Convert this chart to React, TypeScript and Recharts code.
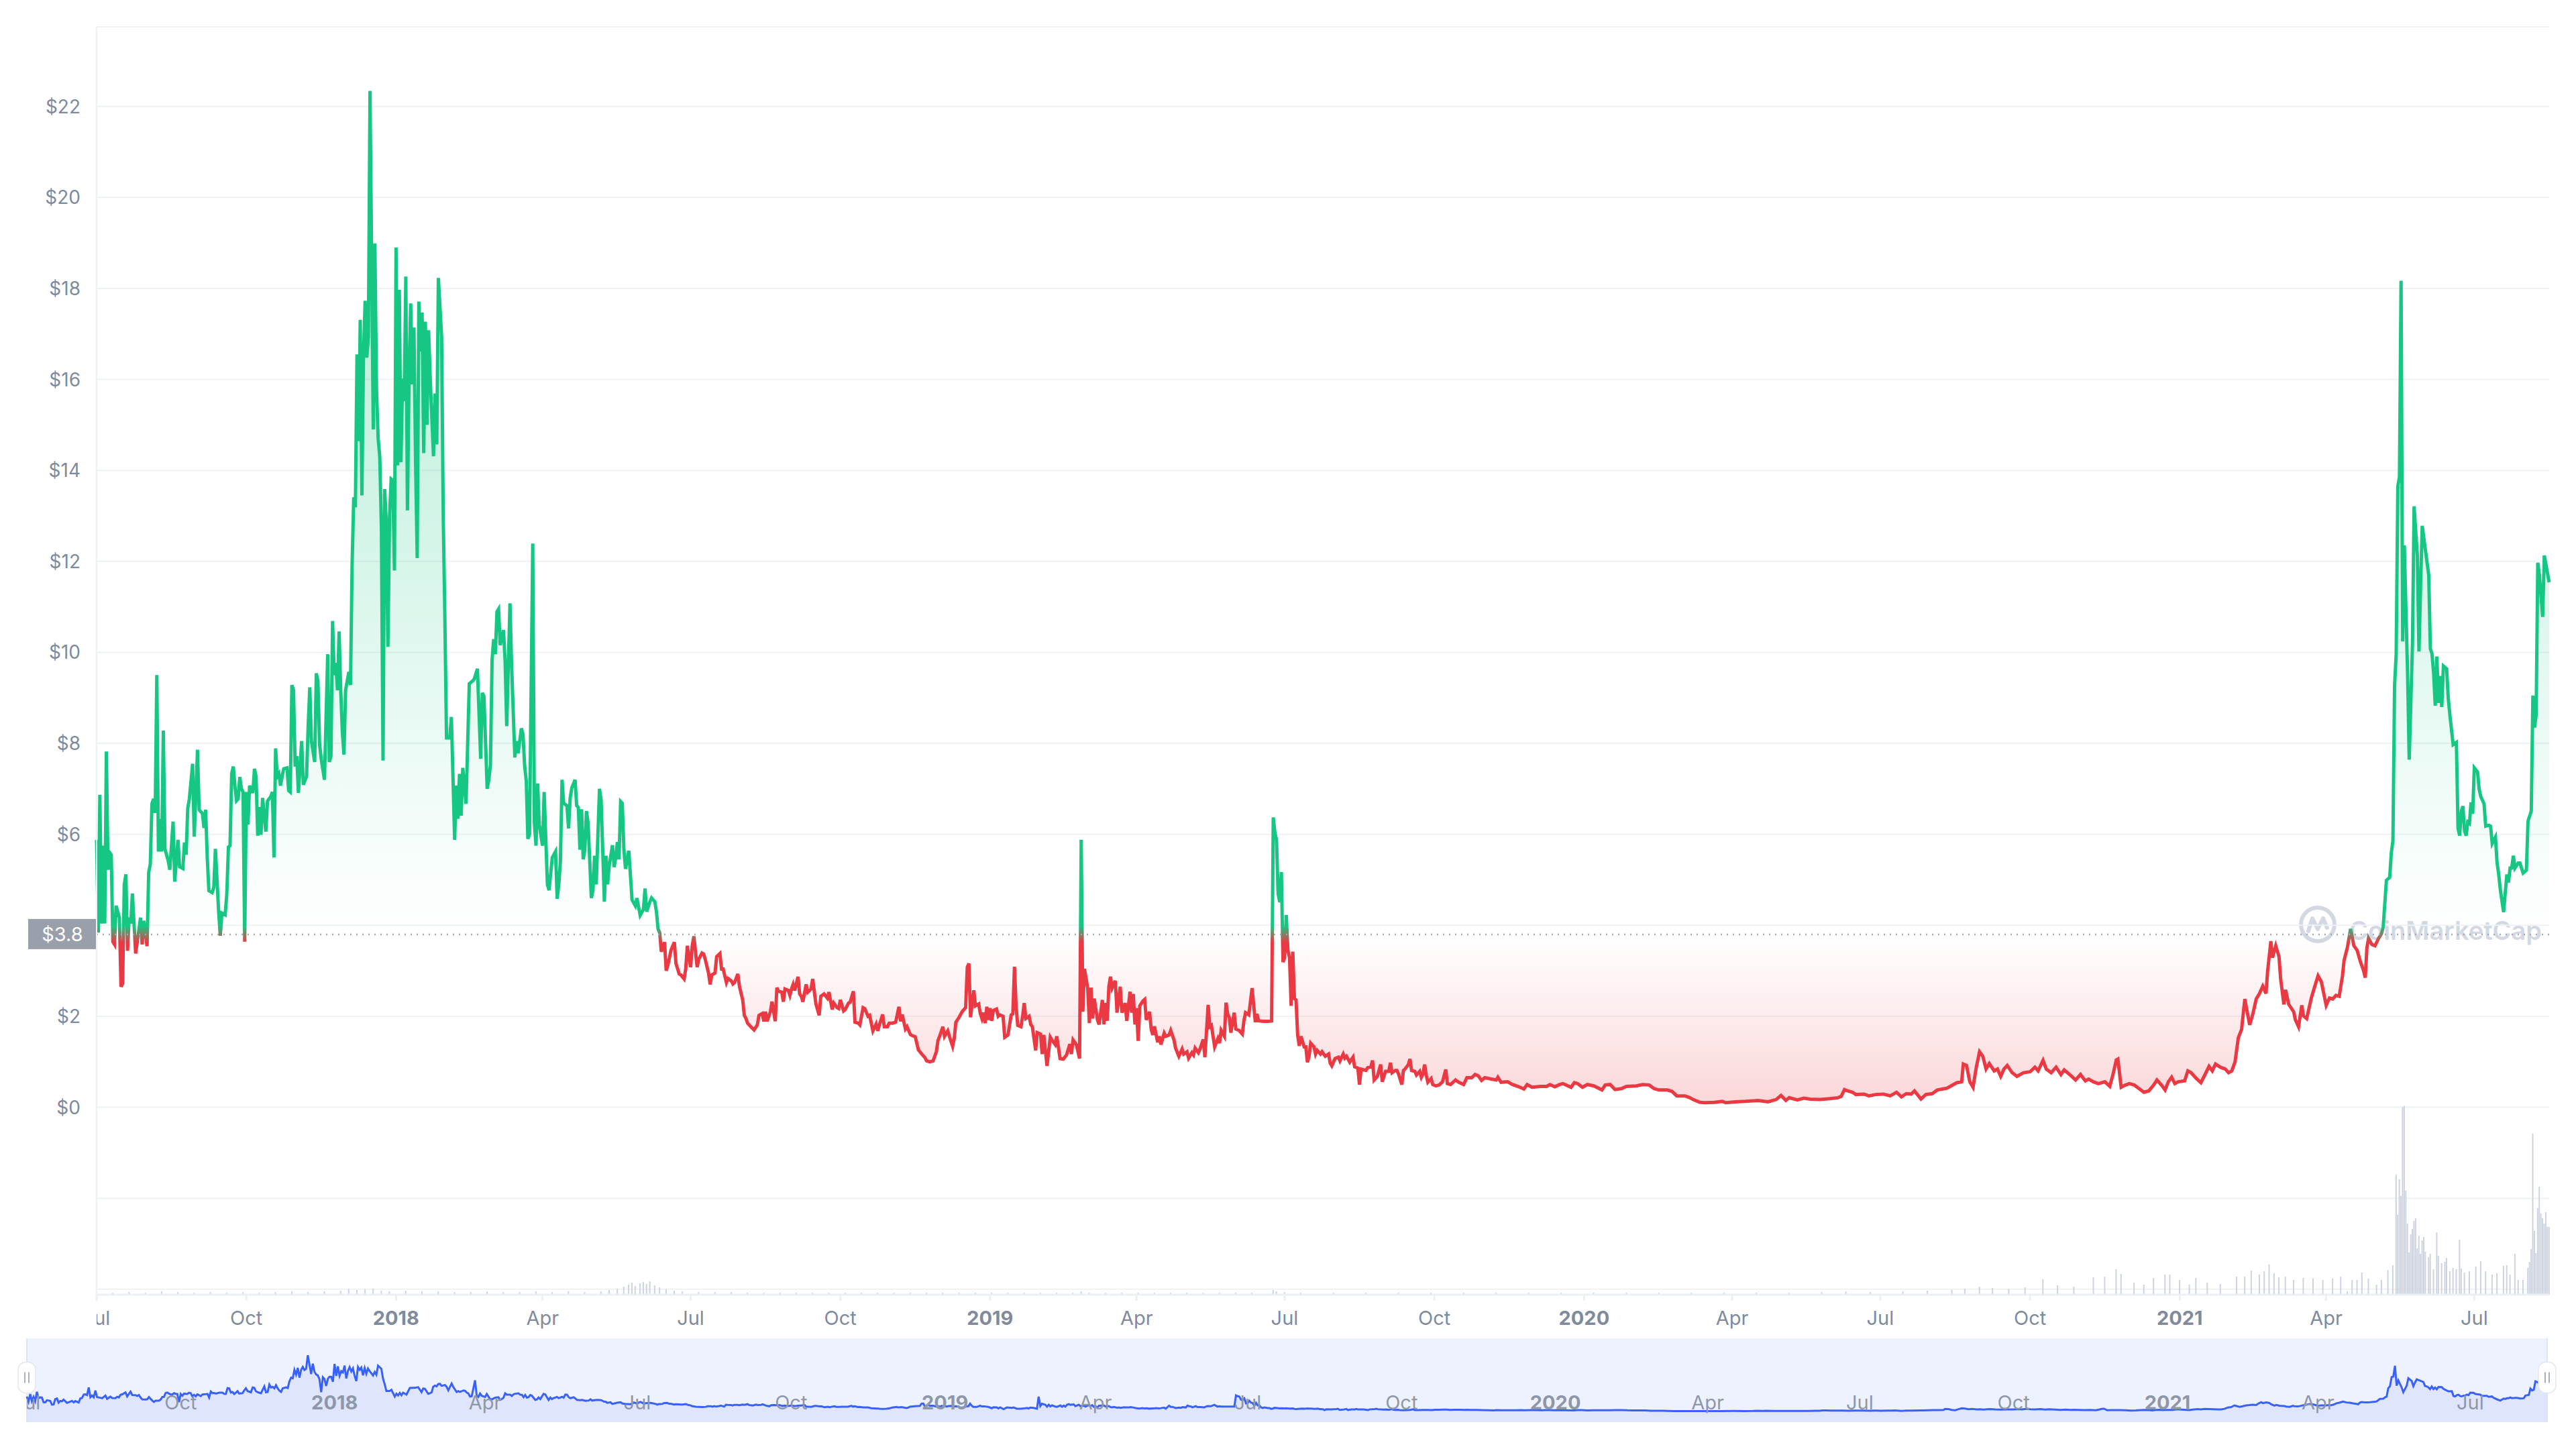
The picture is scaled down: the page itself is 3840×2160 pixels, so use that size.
import { Area, Bar, CartesianGrid, ComposedChart, ReferenceLine, XAxis, YAxis } from 'recharts'

// days are counted from 1 Jul 2017, prices in USD
const BASE_PRICE = 3.8

const price2017: [number, number][] = [
  [0, 5.88], [1, 3.84], [2, 6.87], [3, 4.04], [4, 5.75], [5, 4.04], [6, 7.82], [7, 5.22], [8, 5.6], [9, 5.55],
  [10, 3.64], [11, 3.58], [12, 4.43], [14, 4.17], [15, 2.65], [16, 2.72], [17, 4.89], [18, 5.12], [19, 3.44], [20, 4.17],
  [21, 4.04], [22, 4.7], [24, 3.38], [26, 3.9], [27, 4.17], [28, 3.58], [29, 4.1], [31, 3.54], [32, 5.16], [33, 5.35],
  [34, 6.67], [35, 6.78], [36, 6.47], [37, 9.5], [38, 5.62], [39, 6.34], [40, 5.62], [41, 8.28], [42, 5.68], [44, 5.42],
  [45, 5.22], [47, 6.28], [48, 4.96], [50, 5.88], [51, 5.29], [53, 5.25], [54, 5.82], [55, 5.55], [56, 6.57], [57, 6.78],
  [59, 7.55], [60, 5.95], [62, 7.86], [63, 6.54], [65, 6.46], [66, 6.14], [67, 6.54], [68, 5.49], [69, 4.76], [71, 4.72],
  [72, 4.83], [73, 5.68], [75, 4.3], [76, 3.77], [77, 4.27], [79, 4.23], [80, 4.69], [81, 5.72], [82, 5.75], [83, 7.33],
  [84, 7.49], [85, 7.07], [86, 6.74], [87, 6.78], [88, 7.26], [89, 7.0], [90, 6.93], [91, 3.64], [92, 6.93], [93, 6.21],
  [94, 7.07], [96, 6.91], [97, 7.44], [98, 7.27], [99, 5.97], [100, 6.6], [101, 5.99], [102, 6.8], [104, 6.06], [105, 6.73],
  [107, 6.83], [108, 6.93], [109, 5.49], [110, 7.89], [111, 7.27], [112, 7.33], [113, 7.07], [114, 7.27], [115, 7.44], [117, 7.46],
  [118, 6.96], [119, 6.93], [120, 9.28], [121, 9.17], [122, 7.49], [123, 7.72], [124, 6.91], [126, 8.05], [127, 7.09], [129, 7.27],
  [130, 8.38], [131, 9.23], [132, 8.05], [134, 7.59], [135, 9.54], [136, 9.37], [137, 7.99], [138, 7.66], [140, 7.2], [142, 9.96],
  [143, 7.59], [144, 7.72], [145, 10.69], [146, 9.5], [147, 9.77], [148, 9.17], [149, 10.46], [150, 9.17], [151, 8.25], [152, 7.75],
  [153, 9.17], [155, 9.57], [156, 9.28], [157, 11.94], [158, 13.41], [159, 13.19], [160, 16.55], [161, 14.64], [162, 17.31], [163, 13.45],
  [164, 16.55], [165, 17.73], [166, 16.48], [167, 16.94], [168, 22.34], [170, 14.9], [171, 18.99], [172, 15.76], [173, 14.7], [174, 14.3],
  [175, 12.73], [176, 7.62], [177, 13.59], [178, 12.86], [179, 10.12], [180, 12.99], [181, 13.81], [182, 13.78], [183, 11.8],
]

const price2018: [number, number][] = [
  [184, 18.9], [185, 14.11], [186, 17.97], [187, 14.18], [188, 16.02], [189, 15.52], [190, 18.26], [191, 13.12], [192, 16.09], [193, 17.67],
  [194, 15.89], [195, 17.14], [196, 14.18], [197, 12.07], [198, 17.71], [199, 16.61], [200, 17.47], [201, 14.38], [202, 17.27], [203, 15.0],
  [204, 17.08], [205, 16.02], [207, 14.31], [208, 15.69], [209, 14.57], [210, 18.23], [212, 16.94], [213, 12.99], [214, 10.75], [215, 8.12],
  [217, 8.12], [218, 8.58], [220, 5.88], [221, 7.07], [222, 6.34], [223, 7.33], [224, 6.41], [225, 7.46], [227, 6.67], [228, 7.99],
  [229, 9.31], [231, 9.37], [232, 9.41], [234, 9.64], [236, 7.66], [237, 9.11], [238, 9.04], [240, 7.0], [241, 7.2], [242, 7.53],
  [243, 9.83], [244, 10.29], [245, 9.96], [246, 10.89], [247, 10.95], [248, 10.16], [250, 10.49], [251, 9.83], [252, 8.38], [254, 11.08],
  [255, 9.72], [257, 7.69], [258, 8.05], [259, 7.78], [261, 8.33], [262, 8.2], [263, 7.51], [264, 7.18], [265, 5.9], [266, 6.0],
  [268, 12.39], [269, 6.25], [270, 5.75], [271, 7.12], [272, 6.21], [274, 5.75], [275, 6.93], [277, 4.9], [278, 4.77], [280, 5.49],
  [282, 5.62], [283, 4.58], [284, 4.9], [285, 5.41], [286, 7.2], [287, 6.68], [289, 6.63], [290, 6.13], [291, 6.8], [292, 7.02],
  [294, 7.2], [295, 6.63], [296, 6.59], [297, 5.66], [298, 6.55], [299, 5.45], [300, 5.66], [301, 6.51], [302, 6.25], [304, 4.6],
  [305, 4.77], [306, 5.53], [307, 4.9], [309, 7.0], [310, 6.76], [312, 4.52], [313, 5.53], [314, 4.9], [315, 5.32], [317, 5.76],
  [318, 5.28], [319, 5.49], [320, 5.83], [321, 5.45], [322, 6.72], [323, 6.68], [324, 5.66], [325, 5.24], [327, 5.64], [328, 5.11],
  [329, 4.56], [331, 4.43], [332, 4.6], [334, 4.22], [336, 4.35], [337, 4.81], [338, 4.3], [340, 4.52], [341, 4.6], [343, 4.52],
  [344, 4.3], [345, 3.92], [346, 3.84], [347, 3.42], [349, 3.63], [350, 3.0], [351, 3.12], [353, 3.46], [355, 3.63], [356, 3.16],
  [358, 2.93], [359, 2.91], [361, 2.82], [362, 3.04], [363, 3.55], [365, 3.08], [366, 3.55], [367, 3.76], [369, 3.08], [370, 3.25],
  [372, 3.39], [373, 3.37], [374, 3.25], [376, 2.95], [377, 2.7], [378, 2.91], [380, 2.95], [381, 3.31], [383, 3.38], [384, 3.04],
  [385, 3.04], [387, 2.74], [388, 2.83], [390, 2.78], [391, 2.71], [392, 2.74], [394, 2.93], [395, 2.66], [397, 2.36], [398, 2.02],
  [399, 1.95], [400, 1.85], [402, 1.77], [404, 1.7], [406, 1.81], [407, 2.02], [409, 2.06], [410, 1.89], [411, 2.1], [412, 1.89],
  [414, 2.1], [415, 2.32], [417, 1.89], [418, 2.63], [419, 2.55], [421, 2.53], [422, 2.32], [423, 2.6], [425, 2.57], [426, 2.46],
  [427, 2.6], [428, 2.7], [429, 2.57], [431, 2.87], [432, 2.49], [433, 2.44], [434, 2.32], [436, 2.7], [437, 2.53], [439, 2.6],
  [440, 2.82], [442, 2.27], [444, 2.02], [445, 2.44], [447, 2.49], [449, 2.4], [450, 2.53], [452, 2.15], [453, 2.29], [455, 2.19],
  [456, 2.17], [457, 2.36], [459, 2.12], [460, 2.15], [462, 2.29], [463, 2.31], [465, 2.55], [466, 1.87], [468, 1.85], [469, 1.81],
  [471, 2.19], [472, 2.17], [474, 2.0], [475, 2.02], [477, 1.68], [479, 1.83], [480, 1.68], [481, 1.81], [483, 2.04], [484, 1.77],
  [486, 1.77], [487, 1.85], [489, 1.85], [491, 1.87], [493, 2.21], [494, 1.89], [495, 2.04], [497, 1.72], [498, 1.77], [500, 1.6],
  [501, 1.58], [503, 1.55], [505, 1.26], [507, 1.17], [509, 1.09], [510, 1.02], [512, 1.0], [514, 1.02], [516, 1.22], [517, 1.47],
  [518, 1.56], [520, 1.77], [521, 1.56], [523, 1.68], [524, 1.56], [526, 1.34], [527, 1.51], [528, 1.87], [530, 1.98], [532, 2.11],
  [534, 2.19], [535, 3.08], [536, 3.16], [537, 1.98], [539, 2.57], [540, 2.23], [542, 2.27], [543, 2.06], [544, 1.95], [545, 2.08],
  [546, 1.85], [547, 2.21], [548, 1.92],
]

const price2019: [number, number][] = [
  [549, 2.18], [550, 1.9], [551, 2.13], [553, 2.16], [554, 2.0], [555, 2.03], [557, 2.0], [558, 1.54], [560, 1.59], [562, 2.03],
  [563, 2.05], [564, 3.09], [565, 2.21], [566, 1.8], [568, 1.77], [569, 2.0], [570, 2.29], [571, 1.95], [573, 2.0], [574, 1.82],
  [575, 1.77], [577, 1.25], [578, 1.64], [580, 1.61], [581, 1.17], [582, 1.59], [584, 0.91], [586, 1.54], [587, 1.48], [589, 1.38],
  [590, 1.56], [592, 1.07], [594, 1.06], [596, 1.15], [598, 1.39], [599, 1.17], [600, 1.48], [602, 1.38], [604, 1.07], [605, 5.88],
  [606, 2.1], [607, 3.04], [609, 2.62], [610, 1.85], [611, 2.63], [612, 1.95], [613, 2.39], [615, 1.92], [616, 1.82], [618, 2.36],
  [619, 1.82], [620, 2.29], [621, 1.9], [622, 2.65], [623, 2.87], [624, 2.62], [626, 2.78], [627, 2.08], [629, 2.65], [630, 2.08],
  [632, 2.29], [633, 1.9], [635, 2.54], [636, 2.08], [637, 2.49], [638, 1.82], [639, 2.18], [640, 1.46], [641, 2.23], [643, 2.34],
  [644, 2.37], [645, 1.92], [647, 2.1], [648, 1.72], [649, 1.59], [650, 1.78], [652, 1.43], [653, 1.56], [654, 1.38], [656, 1.63],
  [657, 1.56], [659, 1.59], [660, 1.69], [662, 1.48], [663, 1.3], [665, 1.12], [667, 1.28], [668, 1.17], [670, 1.22], [671, 1.08],
  [673, 1.2], [674, 1.15], [675, 1.3], [677, 1.2], [678, 1.28], [680, 1.49], [681, 1.1], [683, 2.25], [684, 1.77], [685, 1.8],
  [687, 1.33], [689, 1.51], [690, 1.41], [691, 1.69], [693, 1.56], [694, 2.3], [695, 2.05], [696, 1.97], [697, 1.64], [699, 2.08],
  [700, 1.72], [702, 1.69], [704, 1.61], [705, 1.9], [706, 2.08], [708, 2.03], [710, 2.62], [712, 1.87], [713, 2.05], [714, 1.9],
  [717, 1.89], [720, 1.89], [722, 1.9], [723, 6.37], [724, 6.04], [725, 5.88], [726, 4.69], [727, 4.51], [728, 5.17], [729, 3.19],
  [730, 3.29], [731, 4.23], [732, 3.45], [733, 3.29], [734, 2.23], [735, 3.42], [736, 2.39], [737, 2.36], [738, 1.59], [739, 1.35],
  [740, 1.56], [742, 1.33], [743, 1.33], [744, 0.99], [745, 1.12], [746, 1.41], [748, 1.33], [749, 1.17], [750, 1.25], [752, 1.17],
  [753, 1.22], [755, 1.12], [757, 1.17], [758, 0.97], [759, 0.91], [761, 1.07], [763, 1.1], [764, 1.02], [766, 1.17], [767, 1.08],
  [768, 1.12], [770, 0.99], [772, 1.1], [773, 0.89], [775, 0.86], [776, 0.5], [777, 0.84], [780, 0.81], [781, 0.87], [783, 0.89],
  [784, 1.03], [785, 0.6], [787, 0.68], [789, 0.94], [790, 0.56], [792, 0.79], [794, 0.79], [795, 0.98], [796, 0.76], [798, 0.81],
  [799, 0.81], [800, 0.73], [802, 0.5], [803, 0.81], [804, 0.84], [806, 0.94], [807, 1.06], [808, 0.81], [810, 0.79], [811, 0.71],
  [813, 0.79], [814, 0.66], [815, 0.73], [816, 0.94], [817, 0.71], [818, 0.55], [820, 0.63], [821, 0.5], [823, 0.47], [825, 0.49],
  [827, 0.56], [829, 0.83], [830, 0.52], [832, 0.5], [835, 0.6], [837, 0.55], [840, 0.5], [842, 0.65], [845, 0.65], [847, 0.72],
  [849, 0.69], [851, 0.59], [853, 0.65], [857, 0.62], [860, 0.6], [861, 0.66], [863, 0.55], [867, 0.56], [870, 0.5], [874, 0.45],
  [877, 0.4], [879, 0.5], [882, 0.44], [887, 0.46], [891, 0.46], [893, 0.5], [896, 0.45], [899, 0.5], [901, 0.52], [906, 0.44],
  [908, 0.54], [910, 0.52], [913, 0.44],
]

const price2020: [number, number][] = [
  [916, 0.5], [920, 0.47], [925, 0.38], [927, 0.49], [930, 0.5], [933, 0.39], [937, 0.41], [940, 0.46], [946, 0.47], [950, 0.5],
  [954, 0.49], [957, 0.41], [960, 0.38], [965, 0.38], [968, 0.35], [971, 0.25], [976, 0.25], [979, 0.21], [981, 0.17], [985, 0.11],
  [988, 0.1], [994, 0.11], [999, 0.13], [1001, 0.1], [1007, 0.12], [1013, 0.13], [1021, 0.15], [1027, 0.12], [1032, 0.17], [1035, 0.26],
  [1038, 0.15], [1040, 0.21], [1045, 0.16], [1049, 0.2], [1053, 0.18], [1059, 0.17], [1065, 0.19], [1070, 0.21], [1072, 0.24], [1074, 0.39],
  [1076, 0.36], [1079, 0.33], [1081, 0.28], [1086, 0.29], [1089, 0.25], [1093, 0.28], [1098, 0.29], [1102, 0.25], [1106, 0.33], [1109, 0.23],
  [1112, 0.3], [1115, 0.29], [1117, 0.36], [1121, 0.18], [1124, 0.28], [1128, 0.3], [1131, 0.38], [1134, 0.4], [1137, 0.42], [1140, 0.48],
  [1143, 0.54], [1146, 0.56], [1147, 0.95], [1149, 0.92], [1151, 0.56], [1153, 0.44], [1155, 0.88], [1157, 1.22], [1159, 1.12], [1161, 0.84],
  [1163, 0.96], [1166, 0.8], [1168, 0.84], [1170, 0.68], [1172, 0.84], [1174, 0.92], [1177, 0.76], [1180, 0.68], [1184, 0.76], [1188, 0.78],
  [1191, 0.88], [1193, 0.8], [1196, 1.03], [1198, 0.84], [1201, 0.76], [1204, 0.88], [1207, 0.72], [1209, 0.82], [1213, 0.7], [1216, 0.6],
  [1219, 0.72], [1222, 0.58], [1224, 0.62], [1227, 0.56], [1230, 0.52], [1234, 0.56], [1237, 0.46], [1239, 0.72], [1241, 1.04], [1242, 1.06],
  [1244, 0.44], [1246, 0.48], [1249, 0.52], [1252, 0.49], [1255, 0.41], [1258, 0.33], [1261, 0.36], [1264, 0.49], [1266, 0.6], [1269, 0.48],
  [1271, 0.38], [1273, 0.56], [1275, 0.66], [1277, 0.52], [1279, 0.56],
]

const price2021: [number, number][] = [
  [1283, 0.58], [1285, 0.8], [1287, 0.76], [1290, 0.64], [1293, 0.54], [1295, 0.68], [1298, 0.9], [1300, 0.8], [1302, 0.95], [1305, 0.88],
  [1308, 0.84], [1310, 0.76], [1312, 0.8], [1314, 1.0], [1316, 1.53], [1318, 1.71], [1320, 2.38], [1321, 2.18], [1323, 1.81], [1325, 2.06],
  [1327, 2.38], [1329, 2.5], [1331, 2.66], [1333, 2.5], [1334, 2.99], [1336, 3.65], [1337, 3.29], [1339, 3.55], [1341, 3.31], [1342, 2.82],
  [1344, 2.26], [1345, 2.58], [1347, 2.26], [1350, 2.1], [1351, 1.93], [1353, 1.77], [1355, 2.24], [1356, 2.01], [1358, 1.95], [1361, 2.42],
  [1363, 2.66], [1365, 2.89], [1367, 2.76], [1370, 2.24], [1372, 2.4], [1374, 2.38], [1376, 2.46], [1378, 2.44], [1380, 2.89], [1381, 3.23],
  [1383, 3.51], [1385, 3.92], [1387, 3.55], [1389, 3.45], [1391, 3.2], [1393, 3.0], [1394, 2.85], [1395, 3.5], [1396, 3.72], [1398, 3.58],
  [1400, 3.55], [1402, 3.7], [1404, 3.82], [1405, 3.96], [1407, 4.99], [1409, 5.05], [1410, 5.59], [1411, 5.86], [1412, 9.27], [1413, 9.97],
  [1414, 13.65], [1415, 13.86], [1416, 18.17], [1417, 10.24], [1418, 12.35], [1420, 9.54], [1421, 7.64], [1423, 10.18], [1424, 13.21], [1426, 12.13],
  [1427, 10.02], [1428, 11.48], [1429, 12.78], [1431, 12.24], [1433, 11.7], [1434, 10.08], [1435, 9.97], [1436, 9.54], [1437, 8.83], [1438, 9.91],
  [1439, 8.89], [1440, 9.48], [1441, 8.8], [1442, 9.7], [1444, 9.64], [1445, 8.99], [1446, 8.62], [1448, 7.97], [1450, 8.02], [1451, 6.13],
  [1452, 5.97], [1453, 6.51], [1454, 6.62], [1455, 6.08], [1456, 5.97], [1457, 6.27], [1458, 6.24], [1459, 6.7], [1460, 6.45], [1461, 7.46],
  [1463, 7.37], [1464, 6.99], [1465, 6.83], [1467, 6.67], [1468, 6.18], [1470, 6.2], [1471, 6.18], [1472, 5.8], [1474, 5.94], [1475, 5.37],
  [1476, 5.12], [1477, 4.78], [1479, 4.29], [1481, 5.12], [1482, 4.94], [1483, 5.26], [1484, 5.26], [1485, 5.53], [1486, 5.26], [1488, 5.37],
  [1489, 5.37], [1491, 5.15], [1493, 5.21], [1494, 6.29], [1496, 6.51], [1497, 9.05], [1498, 8.35], [1499, 8.62], [1500, 11.97], [1501, 11.7],
  [1503, 10.78], [1504, 12.13], [1507, 11.54],
]

// traded volume, relative units
const volume2017: [number, number][] = [
  [0, 4], [10, 3], [20, 4], [30, 3], [40, 5], [50, 4], [60, 3], [70, 4], [80, 3], [90, 4], [100, 3], [110, 4], [120, 5],
  [130, 4], [140, 5], [150, 6], [155, 9], [160, 7], [165, 8], [170, 9], [175, 6], [180, 5],
]
const volume2018: [number, number][] = [
  [190, 6], [200, 5], [210, 5], [220, 4], [230, 4], [240, 5], [250, 4], [260, 4], [270, 5], [280, 4], [290, 5], [300, 4],
  [310, 5], [315, 7], [320, 9], [324, 12], [327, 15], [329, 18], [331, 13], [334, 17], [336, 19], [338, 16], [340, 20], [343, 14],
  [346, 11], [350, 8], [355, 6], [360, 5], [370, 4], [380, 4], [390, 4], [400, 3], [410, 3], [420, 3], [430, 3], [440, 3],
  [450, 3], [460, 3], [470, 3], [480, 3], [490, 3], [500, 3], [510, 3], [520, 3], [530, 3], [540, 3],
]
const volume2019: [number, number][] = [
  [550, 3], [560, 3], [570, 3], [580, 3], [590, 3], [600, 3], [605, 5], [610, 3], [620, 3], [630, 3], [640, 3], [650, 3],
  [660, 3], [670, 3], [680, 3], [690, 3], [700, 3], [710, 3], [723, 7], [725, 5], [730, 4], [740, 3], [760, 3], [780, 3],
  [800, 3], [820, 3], [840, 3], [860, 3], [880, 3], [900, 3],
]
const volume2020: [number, number][] = [
  [920, 3], [940, 3], [960, 3], [980, 3], [1000, 3], [1020, 3], [1040, 3], [1060, 4], [1075, 5], [1090, 4], [1110, 5],
  [1125, 6], [1140, 7], [1148, 9], [1157, 12], [1165, 10], [1175, 9], [1185, 11], [1196, 23], [1205, 14], [1215, 12],
  [1227, 26], [1234, 27], [1241, 38], [1244, 31], [1252, 18], [1258, 15], [1264, 25], [1271, 30], [1274, 30], [1280, 22],
]
const volume2021: [number, number][] = [
  [1286, 15], [1290, 25], [1297, 18], [1305, 16], [1315, 27], [1320, 27], [1324, 36], [1329, 30], [1332, 35], [1335, 45],
  [1338, 32], [1341, 26], [1345, 27], [1350, 22], [1356, 25], [1362, 24], [1368, 22], [1374, 24], [1379, 27], [1383, 5],
  [1386, 22], [1389, 22], [1392, 33], [1396, 24], [1401, 15], [1404, 22], [1408, 37], [1411, 44], [1413, 179], [1414, 119],
  [1415, 172], [1416, 147], [1417, 279], [1418, 281], [1419, 155], [1420, 106], [1421, 63], [1422, 90], [1423, 98], [1424, 110],
  [1425, 114], [1426, 69], [1427, 88], [1428, 61], [1429, 81], [1430, 86], [1431, 64], [1433, 56], [1434, 61], [1436, 38],
  [1438, 93], [1439, 58], [1441, 47], [1443, 49], [1444, 55], [1446, 35], [1448, 40], [1450, 38], [1452, 82], [1453, 39],
  [1455, 33], [1458, 35], [1462, 42], [1465, 50], [1468, 35], [1472, 30], [1475, 32], [1479, 43], [1481, 44], [1483, 30],
  [1486, 61], [1488, 22], [1491, 22], [1494, 40], [1495, 49], [1496, 68], [1497, 240], [1498, 95], [1499, 62], [1500, 129],
  [1501, 161], [1502, 121], [1503, 114], [1504, 106], [1505, 123], [1506, 101], [1507, 101],
]

const tickDays = [0, 92, 184, 274, 365, 457, 549, 639, 730, 822, 914, 1005, 1096, 1188, 1280, 1370, 1461]
const tickLabels = ['Jul', 'Oct', '2018', 'Apr', 'Jul', 'Oct', '2019', 'Apr', 'Jul', 'Oct', '2020', 'Apr', 'Jul', 'Oct', '2021', 'Apr', 'Jul']
const priceTicks = [-4, -2, 0, 2, 4, 6, 8, 10, 12, 14, 16, 18, 20, 22]

type Row = { day: number; price?: number; volume?: number }

const prices = [...price2017, ...price2018, ...price2019, ...price2020, ...price2021]
const volumes = [...volume2017, ...volume2018, ...volume2019, ...volume2020, ...volume2021]

const byDay = new Map<number, Row>()
prices.forEach(([day, price]) => byDay.set(day, { day, price }))
volumes.forEach(([day, volume]) => byDay.set(day, { ...(byDay.get(day) ?? { day }), volume }))
const rows = [...byDay.values()].sort((a, b) => a.day - b.day)

const priceValues = prices.map((p) => p[1])
const maxPrice = Math.max(...priceValues)
const minPrice = Math.min(...priceValues)
const split = (maxPrice - BASE_PRICE) / (maxPrice - minPrice)

const GREEN = '#16c784'
const RED = '#ea3943'
const GREY = '#808a9d'

function labelFor(day: number) {
  return tickLabels[tickDays.indexOf(day)] ?? ''
}

// the base price label covers the $4 tick, as on the site
function priceLabel(v: number) {
  if (v < 0 || Math.abs(v - BASE_PRICE) < 0.5) return ''
  return `$${v}`
}

function DateTick(props: any) {
  const { x, y, payload } = props
  const label = labelFor(payload.value)
  const bold = /^\d{4}$/.test(label)
  const text = (
    <text x={x} y={y} dy="0.71em" textAnchor="middle" fill={GREY} fontSize={29} fontWeight={bold ? 700 : 400}>
      {label}
    </text>
  )
  if (payload.value !== tickDays[0]) return <g>{text}</g>
  return (
    <g>
      <clipPath id="main-first-tick">
        <rect x={x} y={y - 10} width={80} height={60} />
      </clipPath>
      <g clipPath="url(#main-first-tick)">{text}</g>
    </g>
  )
}

function NavLabel(props: any) {
  const { viewBox, day } = props
  const label = labelFor(day)
  const bold = /^\d{4}$/.test(label)
  const x = viewBox.x
  const y = viewBox.y + viewBox.height - 29
  const text = (
    <text x={x} y={y} dy="0.36em" textAnchor="middle" fill="#8e97a9" fontSize={29} fontWeight={bold ? 700 : 400}>
      {label}
    </text>
  )
  if (day !== tickDays[0]) return <g>{text}</g>
  return (
    <g>
      <clipPath id="nav-first-tick">
        <rect x={x} y={y - 30} width={80} height={60} />
      </clipPath>
      <g clipPath="url(#nav-first-tick)">{text}</g>
    </g>
  )
}

function BaseLabel(props: any) {
  const { viewBox } = props
  return (
    <g>
      <rect x={viewBox.x - 102} y={viewBox.y - 23} width={103} height={45} fill="#9aa0ab" />
      <text x={viewBox.x - 51} y={viewBox.y} dy="0.36em" textAnchor="middle" fill="#fff" fontSize={29}>
        ${BASE_PRICE}
      </text>
    </g>
  )
}

function Handle(props: any) {
  const { viewBox } = props
  const cx = viewBox.x
  const cy = viewBox.y + viewBox.height / 2 - 4
  return (
    <g>
      <rect x={cx - 13} y={cy - 23} width={26} height={46} rx={11} fill="#fff" stroke="#e3e7ef" strokeWidth={1.5} />
      <line x1={cx - 3} x2={cx - 3} y1={cy - 8} y2={cy + 8} stroke="#a7b0c2" strokeWidth={2} />
      <line x1={cx + 3} x2={cx + 3} y1={cy - 8} y2={cy + 8} stroke="#a7b0c2" strokeWidth={2} />
    </g>
  )
}

function Watermark() {
  return (
    <svg width={420} height={90} style={{ position: 'absolute', left: 3400, top: 1330 }}>
      <circle cx={47} cy={40} r={25} fill="none" stroke="#d3d8e2" strokeWidth={6} />
      <path d="M33 50 L39 31 L47 47 L55 31 L61 45" fill="none" stroke="#d3d8e2" strokeWidth={6} strokeLinejoin="round" strokeLinecap="round" />
      <text x={94} y={63} fill="#d3d8e2" fontSize={38} fontWeight={600}>
        CoinMarketCap
      </text>
    </svg>
  )
}

export default function App() {
  return (
    <div style={{ position: 'relative', width: 3824, height: 2144, fontFamily: 'Inter, sans-serif', background: '#fff' }}>
      <Watermark />
      <div style={{ position: 'absolute', left: 0, top: 0 }}>
        <ComposedChart width={3824} height={1980} data={rows} margin={{ top: 32, right: 32, bottom: 0, left: 0 }}>
          <defs>
            <linearGradient id="priceStroke" x1="0" y1="0" x2="0" y2="1">
              <stop offset={0} stopColor={GREEN} />
              <stop offset={split - 0.008} stopColor={GREEN} />
              <stop offset={split + 0.008} stopColor={RED} />
              <stop offset={1} stopColor={RED} />
            </linearGradient>
            <linearGradient id="priceFill" x1="0" y1="0" x2="0" y2="1">
              <stop offset={0} stopColor={GREEN} stopOpacity={0.38} />
              <stop offset={split} stopColor={GREEN} stopOpacity={0} />
              <stop offset={split} stopColor={RED} stopOpacity={0} />
              <stop offset={1} stopColor={RED} stopOpacity={0.2} />
            </linearGradient>
          </defs>
          <CartesianGrid yAxisId="price" vertical={false} stroke="#eff2f5" strokeWidth={2} />
          <XAxis
            dataKey="day"
            type="number"
            domain={['dataMin', 'dataMax']}
            ticks={tickDays}
            interval={0}
            height={58}
            tick={<DateTick />}
            tickSize={9}
            tickMargin={15}
            axisLine={{ stroke: '#eceff3', strokeWidth: 3 }}
            tickLine={{ stroke: '#eceff3', strokeWidth: 3 }}
          />
          <YAxis
            yAxisId="price"
            type="number"
            domain={[-4.12, 23.75]}
            ticks={priceTicks}
            interval={0}
            width={136}
            tickFormatter={priceLabel}
            tick={{ fill: GREY, fontSize: 28 }}
            tickLine={false}
            tickSize={0}
            tickMargin={24}
            axisLine={{ stroke: '#eff2f5', strokeWidth: 2 }}
          />
          <YAxis yAxisId="volume" hide domain={[0, (dataMax: number) => dataMax * 6.72]} />
          <Bar yAxisId="volume" dataKey="volume" barSize={2} fill="#cdd3df" isAnimationActive={false} />
          <ReferenceLine
            yAxisId="price"
            y={BASE_PRICE}
            stroke="#a1a7b3"
            strokeWidth={2.5}
            strokeDasharray="2 7"
            label={(p: any) => <BaseLabel {...p} />}
          />
          <Area
            yAxisId="price"
            type="linear"
            dataKey="price"
            baseValue={BASE_PRICE}
            stroke="url(#priceStroke)"
            strokeWidth={5}
            fill="url(#priceFill)"
            fillOpacity={1}
            connectNulls
            dot={false}
            activeDot={false}
            isAnimationActive={false}
          />
        </ComposedChart>
      </div>
      <div style={{ position: 'absolute', left: 12, top: 1987 }}>
        <ComposedChart width={3810} height={125} data={rows} margin={{ top: 0, right: 33, bottom: 0, left: 20 }}>
          <CartesianGrid horizontal={false} stroke="#dfe5f6" strokeWidth={2} fill="#eef2fe" fillOpacity={1} />
          <XAxis
            dataKey="day"
            type="number"
            domain={['dataMin', 'dataMax']}
            ticks={tickDays}
            interval={0}
            height={0}
            tick={false}
            axisLine={false}
            tickLine={false}
          />
          <YAxis hide domain={[-4.3, 29.1]} />
          {tickDays.map((day) => (
            <ReferenceLine key={day} x={day} stroke="none" label={(p: any) => <NavLabel {...p} day={day} />} />
          ))}
          <Area
            type="linear"
            dataKey="price"
            baseValue="dataMin"
            stroke="#3861fb"
            strokeWidth={3}
            fill="#d8e0fb"
            fillOpacity={0.75}
            connectNulls
            dot={false}
            activeDot={false}
            isAnimationActive={false}
          />
          <ReferenceLine x={rows[0].day} stroke="none" label={(p: any) => <Handle {...p} />} />
          <ReferenceLine x={rows[rows.length - 1].day} stroke="none" label={(p: any) => <Handle {...p} />} />
        </ComposedChart>
      </div>
    </div>
  )
}
